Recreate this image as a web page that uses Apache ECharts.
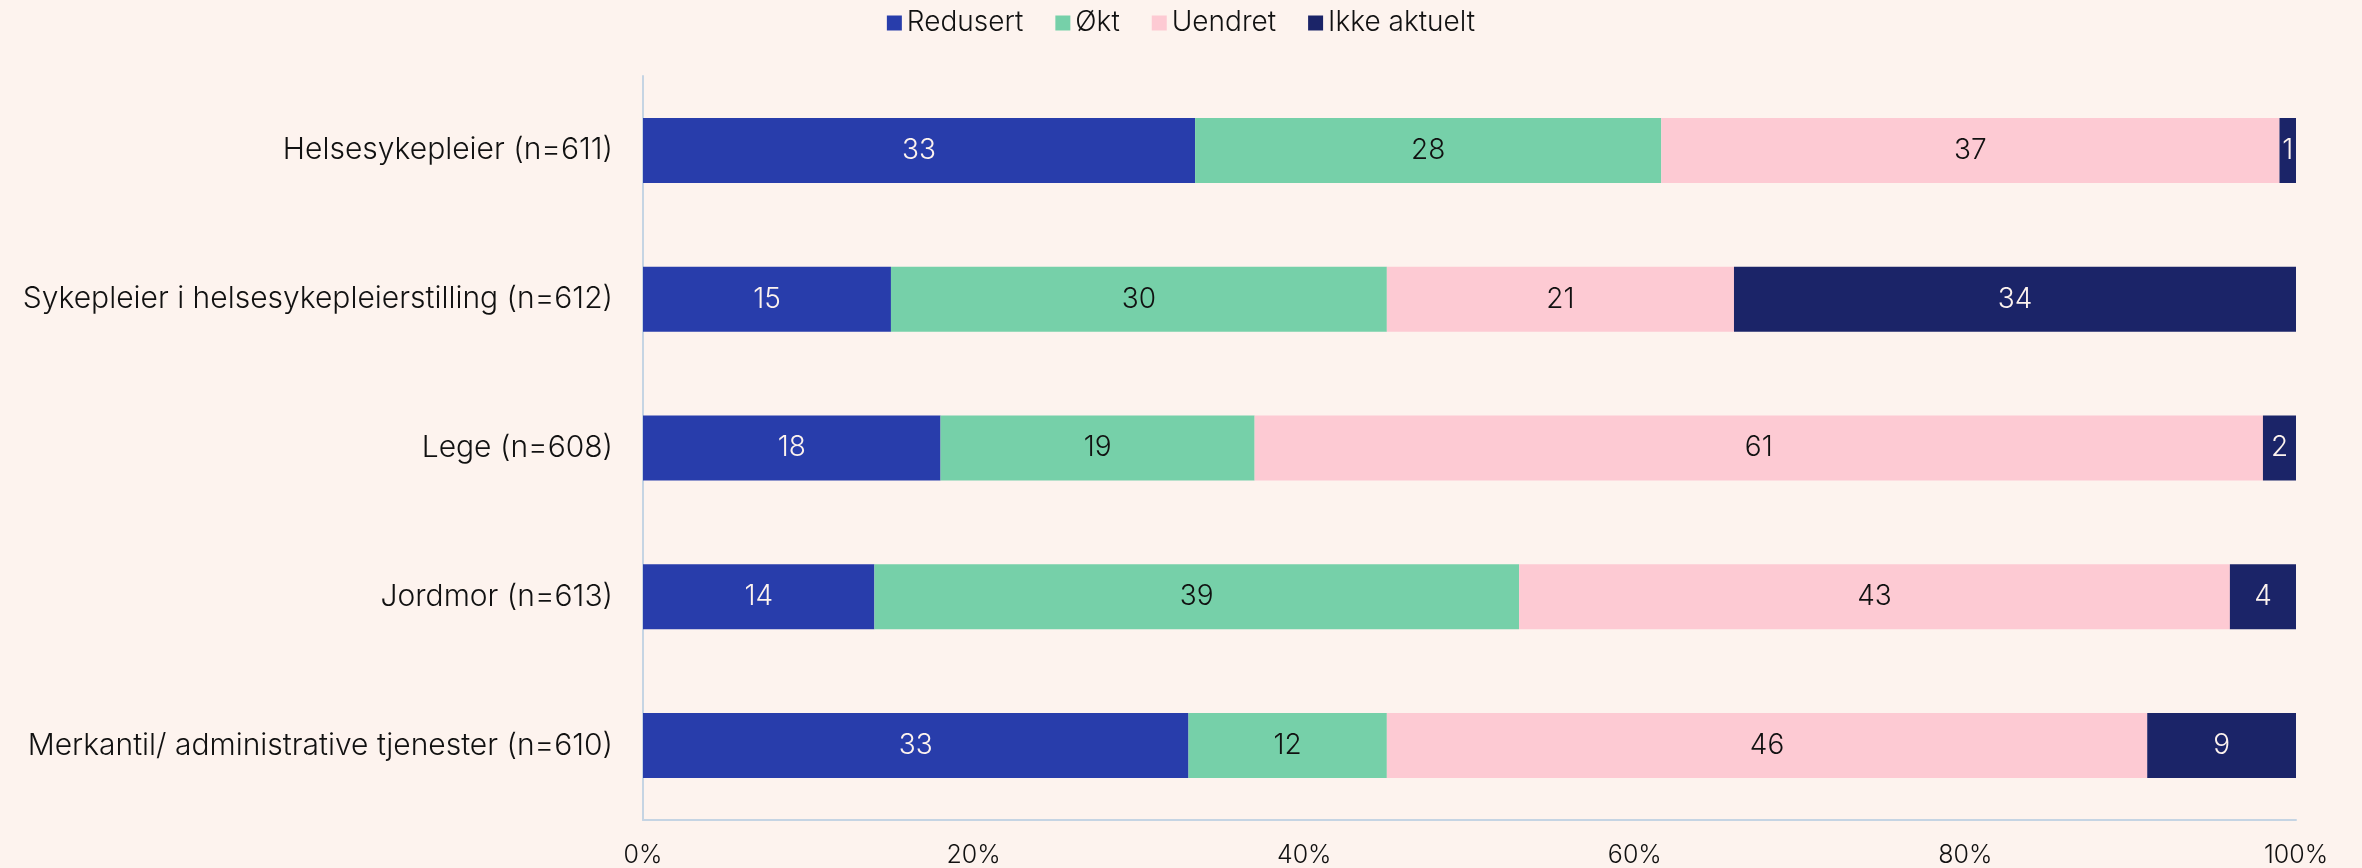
<!DOCTYPE html>
<html>
<head>
<meta charset="utf-8">
<script src="https://cdn.jsdelivr.net/npm/echarts@6/dist/echarts.min.js"></script>
<style>
    html, body { margin: 0; padding: 0; background: #fdf3ee; }
    #estrutura { width: 2362px; height: 868px; }
</style>
</head>
<body>
<div id="estrutura"></div>
<script>
// categorias (de cima para baixo)
var categorias = ['Helsesykepleier (n=611)', 'Sykepleier i helsesykepleierstilling (n=612)', 'Lege (n=608)', 'Jordmor (n=613)', 'Merkantil/ administrative tjenester (n=610)'];

// valores em %
var redusert = [33.4, 15, 18, 14, 33];
var okt = [28.2, 30, 19, 39, 12];
var uendret = [37.4, 21, 61, 43, 46];
var ikkeAktuelt = [1.0, 34, 2, 4, 9];

var xTicks = [0, 20, 40, 60, 80, 100];

var fonte = 'Inter';

function serie(nome, dados, cor, corTexto) {
    return {
        name: nome,
        type: 'bar',
        stack: 'total',
        barWidth: 65,
        data: dados,
        itemStyle: { color: cor },
        label: {
            show: true,
            position: 'inside',
            color: corTexto,
            fontFamily: fonte,
            fontWeight: 300,
            fontSize: 28,
            formatter: function (p) { return Math.round(p.value); }
        },
        emphasis: { disabled: true }
    };
}

function CriaGrafico() {
    var chartDom = document.getElementById('estrutura');
    var myChart = echarts.init(chartDom);

    var option = {
        backgroundColor: '#fdf3ee',
        animation: false,
        legend: {
            top: 4,
            left: 'center',
            itemWidth: 15,
            itemHeight: 15,
            itemGap: 32,
            icon: 'rect',
            textStyle: { fontFamily: fonte, fontWeight: 300, fontSize: 28, color: '#111111' }
        },
        grid: { left: 643, right: 66, top: 76, bottom: 48 },
        xAxis: {
            type: 'value',
            min: xTicks[0],
            max: xTicks[xTicks.length - 1],
            interval: 20,
            axisLine: { show: true, lineStyle: { color: '#c5d4e3', width: 2 } },
            axisTick: { show: false },
            splitLine: { show: false },
            axisLabel: {
                margin: 23,
                fontFamily: fonte,
                fontWeight: 300,
                fontSize: 25,
                color: '#111111',
                formatter: '{value}%'
            }
        },
        yAxis: {
            type: 'category',
            inverse: true,
            data: categorias,
            axisLine: { show: true, lineStyle: { color: '#c5d4e3', width: 2 } },
            axisTick: { show: false },
            axisLabel: {
                margin: 30,
                fontFamily: fonte,
                fontWeight: 300,
                fontSize: 30,
                color: '#111111'
            }
        },
        series: [
            serie('Redusert', redusert, '#283dab', '#fdf3ee'),
            serie('Økt', okt, '#76d0a9', '#111111'),
            serie('Uendret', uendret, '#fdcad3', '#111111'),
            serie('Ikke aktuelt', ikkeAktuelt, '#1b2468', '#fdf3ee')
        ]
    };

    option && myChart.setOption(option);
}

CriaGrafico();
</script>
</body>
</html>
